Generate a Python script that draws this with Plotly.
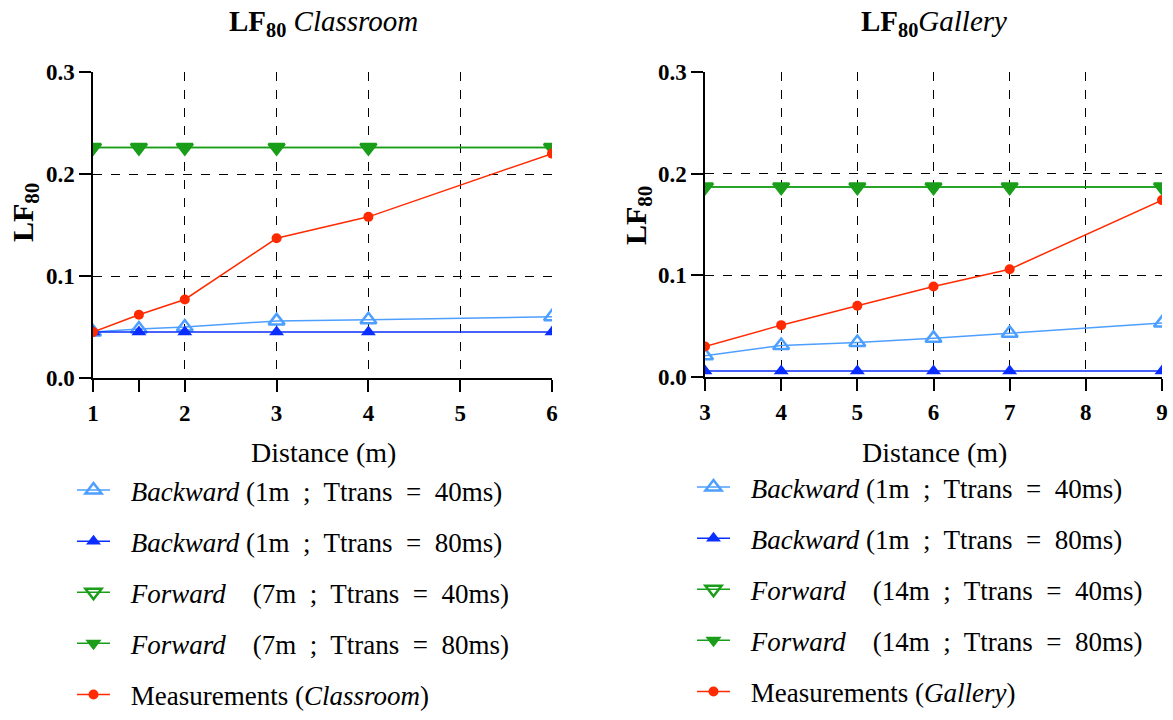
import plotly.graph_objects as go

# ---------------- data ----------------
class_x = [1, 1.5, 2, 3, 4, 6]
class_back40 = [0.045, 0.048, 0.050, 0.056, 0.057, 0.060]
class_back80 = [0.045, 0.045, 0.045, 0.045, 0.045, 0.045]
class_fwd40 = [0.226, 0.226, 0.226, 0.226, 0.226, 0.226]
class_fwd80 = [0.226, 0.226, 0.226, 0.226, 0.226, 0.226]
class_meas = [0.045, 0.062, 0.077, 0.137, 0.158, 0.220]

gal_x = [3, 4, 5, 6, 7, 9]
gal_back40 = [0.021, 0.031, 0.034, 0.038, 0.043, 0.053]
gal_back80 = [0.006, 0.006, 0.006, 0.006, 0.006, 0.006]
gal_fwd40 = [0.187, 0.187, 0.187, 0.187, 0.187, 0.187]
gal_fwd80 = [0.187, 0.187, 0.187, 0.187, 0.187, 0.187]
gal_meas = [0.030, 0.051, 0.070, 0.089, 0.106, 0.174]

PAD = "\u2002\u200a"
class_labels = [
    PAD + "<i>Backward</i> (1m  ;  Ttrans  =  40ms)",
    PAD + "<i>Backward</i> (1m  ;  Ttrans  =  80ms)",
    PAD + "<i>Forward</i>    (7m  ;  Ttrans  =  40ms)",
    PAD + "<i>Forward</i>    (7m  ;  Ttrans  =  80ms)",
    PAD + "Measurements (<i>Classroom</i>)",
]
gal_labels = [
    PAD + "<i>Backward</i> (1m  ;  Ttrans  =  40ms)",
    PAD + "<i>Backward</i> (1m  ;  Ttrans  =  80ms)",
    PAD + "<i>Forward</i>    (14m  ;  Ttrans  =  40ms)",
    PAD + "<i>Forward</i>    (14m  ;  Ttrans  =  80ms)",
    PAD + "Measurements (<i>Gallery</i>)",
]

FONT = "Liberation Serif"
LBLUE = "#4d9fff"
DBLUE = "#0a2eff"
GREEN = "#1a9e1a"
RED = "#ff2a00"

styles = [
    dict(line=dict(color=LBLUE, width=1.5),
         marker=dict(symbol="triangle-up-open", size=14, color=LBLUE, line=dict(width=2.5, color=LBLUE))),
    dict(line=dict(color=DBLUE, width=1.5),
         marker=dict(symbol="triangle-up", size=13, color=DBLUE)),
    dict(line=dict(color=GREEN, width=1.5),
         marker=dict(symbol="triangle-down-open", size=14, color=GREEN, line=dict(width=2.5, color=GREEN))),
    dict(line=dict(color=GREEN, width=1.5),
         marker=dict(symbol="triangle-down", size=14, color=GREEN)),
    dict(line=dict(color=RED, width=1.5),
         marker=dict(symbol="circle", size=10, color=RED)),
]

fig = go.Figure()

class_series = [class_back40, class_back80, class_fwd40, class_fwd80, class_meas]
gal_series = [gal_back40, gal_back80, gal_fwd40, gal_fwd80, gal_meas]

for i, (ys, name) in enumerate(zip(class_series, class_labels)):
    fig.add_trace(go.Scatter(x=class_x, y=ys, name=name, mode="lines+markers",
                             xaxis="x", yaxis="y", legend="legend",
                             legendgroup=f"c{i}", **styles[i]))
for i, (ys, name) in enumerate(zip(gal_series, gal_labels)):
    fig.add_trace(go.Scatter(x=gal_x, y=ys, name=name, mode="lines+markers",
                             xaxis="x2", yaxis="y2", legend="legend2",
                             legendgroup=f"g{i}", **styles[i]))

W, H = 1173, 720
def px_x(p):
    return p / W
def px_y(p):
    return 1 - p / H

TICKFONT = dict(family=FONT, size=23, color="black", weight="bold")
common_x = dict(showline=True, linecolor="black", linewidth=1.5, ticks="outside",
                ticklen=12, tickcolor="black", tickwidth=1.5, ticklabelstandoff=2,
                showgrid=True, gridcolor="black", griddash="dash", gridwidth=1,
                zeroline=False, automargin=False, tickfont=TICKFONT)
common_y = dict(showline=True, linecolor="black", linewidth=1.5, ticks="outside",
                ticklen=12, tickcolor="black", tickwidth=1.5,
                showgrid=True, gridcolor="black", griddash="dash", gridwidth=1,
                zeroline=False, automargin=False, range=[0, 0.3],
                tickvals=[0, 0.1, 0.2, 0.3], ticktext=["0.0", "0.1", "0.2", "0.3"],
                tickfont=TICKFONT)

LEGFONT = dict(family=FONT, size=27, color="black")

def ann(text, x, y, size, angle=0):
    return dict(text=text, x=px_x(x), y=px_y(y), xref="paper", yref="paper",
                xanchor="center", yanchor="middle", showarrow=False, textangle=angle,
                font=dict(family=FONT, size=size, color="black"))

fig.update_layout(
    width=W, height=H,
    margin=dict(l=0, r=0, t=0, b=0, autoexpand=False),
    paper_bgcolor="white", plot_bgcolor="white",
    font=dict(family=FONT, color="black"),
    xaxis=dict(domain=[px_x(93), px_x(552)], range=[1, 6], anchor="y",
               tickvals=[1, 2, 3, 4, 5, 6],
               minor=dict(tickvals=[1.5], ticks="outside", ticklen=12, tickcolor="black",
                          tickwidth=1.5, showgrid=False),
               **common_x),
    yaxis=dict(domain=[px_y(378), px_y(72)], anchor="x", **common_y),
    xaxis2=dict(domain=[px_x(705), px_x(1162)], range=[3, 9], anchor="y2",
                tickvals=[3, 4, 5, 6, 7, 8, 9], **common_x),
    yaxis2=dict(domain=[px_y(377), px_y(72)], anchor="x2", **common_y),
    legend=dict(x=px_x(72), y=px_y(466), xanchor="left", yanchor="top",
                font=LEGFONT, tracegroupgap=13, itemwidth=33, bgcolor="rgba(0,0,0,0)"),
    legend2=dict(x=px_x(692), y=px_y(463), xanchor="left", yanchor="top",
                 font=LEGFONT, tracegroupgap=13, itemwidth=33, bgcolor="rgba(0,0,0,0)"),
    annotations=[
        ann("<b>LF<sub>80</sub></b> <i>Classroom</i>", 323, 23, 29),
        ann("<b>LF<sub>80</sub></b><i>Gallery</i>", 934, 23, 29),
        ann("<b>LF<sub>80</sub></b>", 25, 213, 30, -90),
        ann("<b>LF<sub>80</sub></b>", 638, 216, 30, -90),
        ann("Distance (m)", 323, 452, 28),
        ann("Distance (m)", 934, 452, 28),
    ],
)

fig.write_html("out.html", config={"displayModeBar": False},
               post_script="document.body.style.margin='0px';")
